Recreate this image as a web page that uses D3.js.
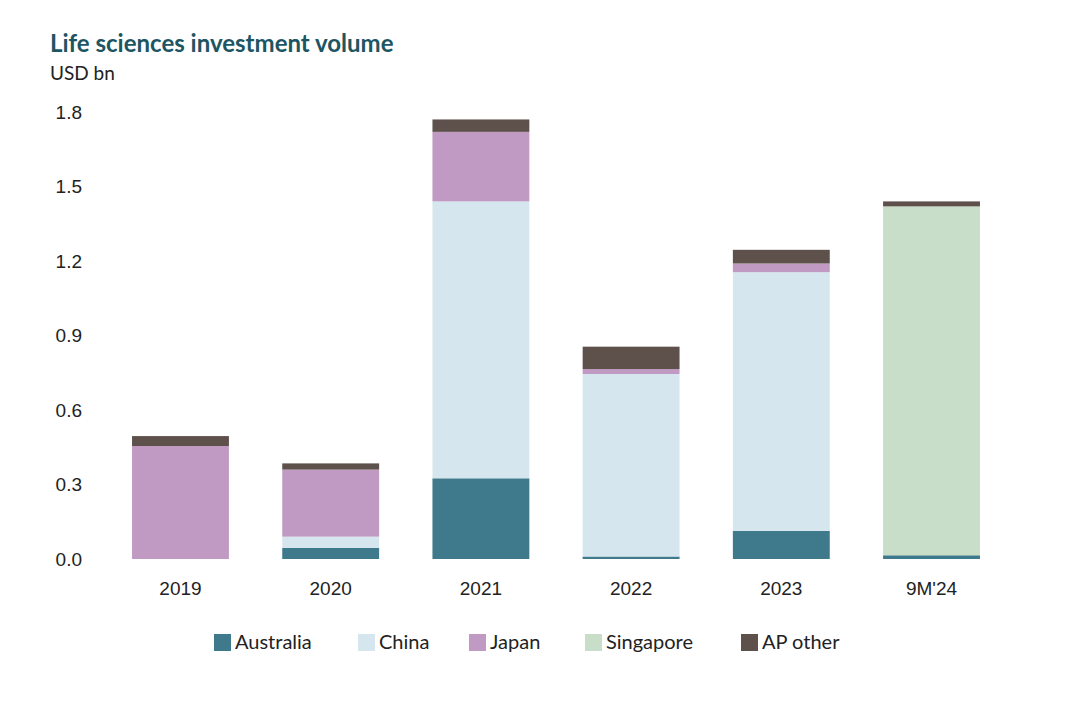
<!DOCTYPE html>
<html><head><meta charset="utf-8">
<script src="https://cdn.jsdelivr.net/npm/d3@7"></script>
<style>body{margin:0;background:#fff;font-family:"Source Sans Pro",Lato,"Noto Sans",sans-serif;}</style>
</head><body><svg id="c" width="1080" height="702"></svg>
<script>
const categories = ["2019","2020","2021","2022","2023","9M'24"];
const seriesNames = ["Australia","China","Japan","Singapore","AP other"];
const australia = [0, 0.045, 0.325, 0.01, 0.113, 0.015];
const china     = [0, 0.045, 1.115, 0.735, 1.042, 0];
const japan     = [0.455, 0.27, 0.28, 0.02, 0.035, 0];
const singapore = [0, 0, 0, 0, 0, 1.405];
const apOther   = [0.04, 0.025, 0.05, 0.09, 0.055, 0.02];
const yTicks = [0, 0.3, 0.6, 0.9, 1.2, 1.5, 1.8];
const colors = ["#3f7a8c","#d6e6ee","#c09ac2","#c9dec8","#5e514b"];

const rows = categories.map((c,i)=>({cat:c,"Australia":australia[i],"China":china[i],"Japan":japan[i],"Singapore":singapore[i],"AP other":apOther[i]}));
const stack = d3.stack().keys(seriesNames)(rows);
const svg = d3.select("#c");
const y = d3.scaleLinear().domain([0,1.8]).range([559,112]);
const x = d3.scaleBand().domain(categories).range([105,1007]).paddingInner(0.355).paddingOuter(0.18);

svg.append("text").attr("x",50).attr("y",52).attr("fill","#1d5563").attr("font-size",24).attr("font-weight",700).text("Life sciences investment volume");
svg.append("text").attr("x",50).attr("y",80).attr("fill","#222").attr("font-size",19).text("USD bn");

const ya = svg.append("g").attr("transform","translate(82,0)").call(d3.axisLeft(y).tickValues(yTicks).tickFormat(d3.format(".1f")).tickSize(0).tickPadding(0));
ya.select(".domain").remove();
ya.selectAll("text").attr("font-size",19).attr("fill","#222").style("font-family","inherit");

stack.forEach((s,k)=>{
  svg.append("g").selectAll("rect").data(s).join("rect")
    .attr("x",d=>x(d.data.cat)).attr("width",x.bandwidth())
    .attr("y",d=>y(d[1])).attr("height",d=>Math.max(0,y(d[0])-y(d[1])))
    .attr("fill",colors[k]);
});

const xa = svg.append("g").attr("transform","translate(0,578)").call(d3.axisBottom(x).tickSize(0).tickPadding(4));
xa.select(".domain").remove();
xa.selectAll("text").attr("font-size",19).attr("fill","#222").style("font-family","inherit");

const legX=[214,358,469,585,741];
const lg = svg.append("g").selectAll("g").data(seriesNames).join("g").attr("transform",(d,i)=>`translate(${legX[i]},634)`);
lg.append("rect").attr("width",17).attr("height",17).attr("fill",(d,i)=>colors[i]);
lg.append("text").attr("x",21).attr("y",15).attr("font-size",20).attr("fill","#222").text(d=>d);
</script></body></html>
